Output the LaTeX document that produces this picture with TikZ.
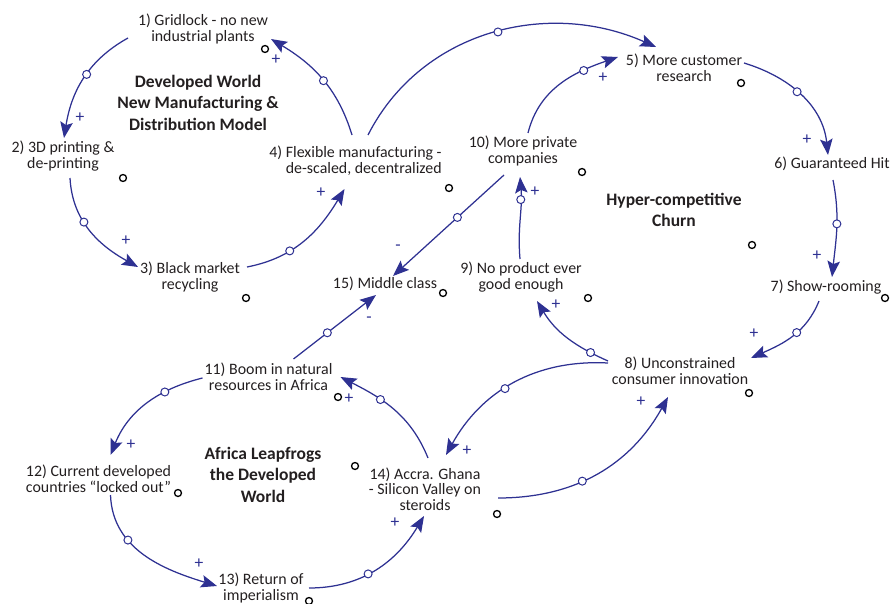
\documentclass[tikz,border=0pt]{standalone}
\usepackage{fontspec}
\setmainfont{Carlito}
\usetikzlibrary{arrows.meta}
\definecolor{linkblue}{RGB}{46,49,146}
\definecolor{ink}{RGB}{35,31,32}

\begin{document}
\begin{tikzpicture}[x=1pt,y=-1pt,
  var/.style={align=center, inner sep=0pt, text=ink,
    font=\fontsize{15.9}{15.7}\selectfont},
  looptitle/.style={align=center, inner sep=0pt, text=ink,
    font=\fontsize{17.5}{21.5}\selectfont\bfseries},
  link/.style={draw=linkblue, line width=1.25pt,
    -{Stealth[length=16pt,width=12.5pt,inset=3pt]}},
  midmark/.style={circle, draw=linkblue, fill=white, line width=1pt,
    inner sep=0pt, minimum size=8pt},
  loopmark/.style={circle, draw=black, line width=1.3pt,
    inner sep=0pt, minimum size=7pt},
  polarity/.style={text=linkblue, inner sep=0pt,
    font=\fontsize{17.5}{17.5}\selectfont}
]
\useasboundingbox (0,0) rectangle (890,604);

% ---------- variables ----------
\node[var] (n1) at (203,29) {1) Gridlock - no new\\industrial plants};
\node[var] (n2) at (63,156) {2) 3D printing \&\\de-printing};
\node[var] (n3) at (190,277) {3) Black market\\recycling};
\node[var, align=right] (n4) at (355.5,161) {4) Flexible manufacturing -\\de-scaled, decentralized};
\node[var] (n5) at (684,68) {5) More customer\\research};
\node[var] (n6) at (832,164) {6) Guaranteed Hit};
\node[var] (n7) at (826,287) {7) Show-rooming};
\node[var] (n8) at (680,371) {8) Unconstrained\\consumer innovation};
\node[var] (n9) at (521,277) {9) No product ever\\good enough};
\node[var] (n10) at (523,151) {10) More private\\companies};
\node[var] (n11) at (268.5,377) {11) Boom in natural\\resources in Africa};
\node[var] (n12) at (98.5,479) {12) Current developed\\countries “locked out”};
\node[var] (n13) at (261,588) {13) Return of\\imperialism};
\node[var] (n14) at (425,489) {14) Accra. Ghana\\- Silicon Valley on\\steroids};
\node[var] (n15) at (385,284) {15) Middle class};

% ---------- loop titles ----------
\node[looptitle] (t1) at (198,102.5) {Developed World\\New Manufacturing \&\\Distribution Model};
\node[looptitle] (t2) at (674,210) {Hyper-competitive\\Churn};
\node[looptitle] (t3) at (263,474.5) {Africa Leapfrogs\\the Developed\\World};

% ---------- loop markers ----------
\foreach \p [count=\i] in {(265,49),(123,178),(246,298),(449,188),(741,83),
    (582,172),(752,245),(443,293),(588,298),(885,298),(749,393),(497,514),
    (355,466),(338,397),(178,493),(309,601)}
  \node[loopmark] (m\i) at \p {};

% ---------- links ----------
% Developed World loop
\draw[link] ([shift={(-75,9)}]n1.center) to[out=209,in=81]
  node[midmark,pos=0.45]{} ([shift={(1,-18)}]n2.center);
\draw[link] ([shift={(7,22)}]n2.center) to[out=-87,in=151]
  node[midmark,pos=0.4]{} ([shift={(-52,-10)}]n3.center);
\draw[link] ([shift={(57,-10)}]n3.center) to[out=11,in=239]
  node[midmark,pos=0.35]{} ([shift={(-11,28)}]n4.center);
\draw[link] ([shift={(-3.5,-26)}]n4.center) to[out=107,in=-31]
  node[midmark,pos=0.48]{} ([shift={(68,10)}]n1.center);

% bridge to the churn loop
\draw[link] ([shift={(12.5,-26)}]n4.center) to[out=63,in=156]
  node[midmark,pos=0.52]{} ([shift={(-28,-21)}]n5.center);

% Hyper-competitive churn loop
\draw[link] ([shift={(5,-18)}]n10.center) to[out=76,in=199]
  node[midmark,pos=0.72]{} ([shift={(-66,-11)}]n5.center);
\draw[link] ([shift={(60,-5)}]n5.center) to[out=-17,in=96]
  node[midmark,pos=0.45]{} ([shift={(-4,-9)}]n6.center);
\draw[link] ([shift={(1,16)}]n6.center) to[out=-79,in=84]
  node[midmark,pos=0.45]{} ([shift={(6,-10)}]n7.center);
\draw[link] ([shift={(-7,14)}]n7.center) to[out=248,in=24]
  node[midmark,pos=0.43]{} ([shift={(71,-13)}]n8.center);
\draw[link] ([shift={(-72,-10)}]n8.center) to[out=156,in=-59]
  node[midmark,pos=0.19]{} ([shift={(16,24)}]n9.center);
\draw[link] ([shift={(-1,-18)}]n9.center) to[out=95,in=-85]
  node[midmark,pos=0.74]{} ([shift={(-3,26)}]n10.center);

% middle class
\draw[link] ([shift={(-19,24)}]n10.center) --
  node[midmark,pos=0.42]{} ([shift={(8,-8)}]n15.center);
\draw[link] ([shift={(25,-18)}]n11.center) --
  node[midmark,pos=0.41]{} ([shift={(-9,11)}]n15.center);

% bridge between churn and Africa loops
\draw[link] ([shift={(-72,-8)}]n8.center) to[out=177,in=61]
  node[midmark,pos=0.55]{} ([shift={(21,-34)}]n14.center);
\draw[link] ([shift={(73,9)}]n14.center) to[out=0,in=241]
  node[midmark,pos=0.41]{} ([shift={(-12,26)}]n8.center);

% Africa loop
\draw[link] ([shift={(3,-31)}]n14.center) to[out=112,in=-27]
  node[midmark,pos=0.64]{} ([shift={(72,0)}]n11.center);
\draw[link] ([shift={(-66,1)}]n11.center) to[out=194,in=68]
  node[midmark,pos=0.31]{} ([shift={(12,-24)}]n12.center);
\draw[link] ([shift={(12,16)}]n12.center) to[out=-88,in=163]
  node[midmark,pos=0.34]{} ([shift={(-44,-2)}]n13.center);
\draw[link] ([shift={(48,0)}]n13.center) to[out=0,in=239]
  node[midmark,pos=0.43]{} ([shift={(-1,27)}]n14.center);

% ---------- polarities ----------
\foreach \p [count=\i] in {(80,118),(126,241),(321,193),(276,60),(603,78),
    (807,140),(817,256),(754,334),(556,305),(535,192),(467,451),(641,402),
    (349,399),(131,445),(199,564),(395,523)}
  \node[polarity] (p\i) at \p {+};
\node[polarity] (q1) at (398,248) {-};
\node[polarity] (q2) at (369,320) {-};
\end{tikzpicture}
\end{document}
